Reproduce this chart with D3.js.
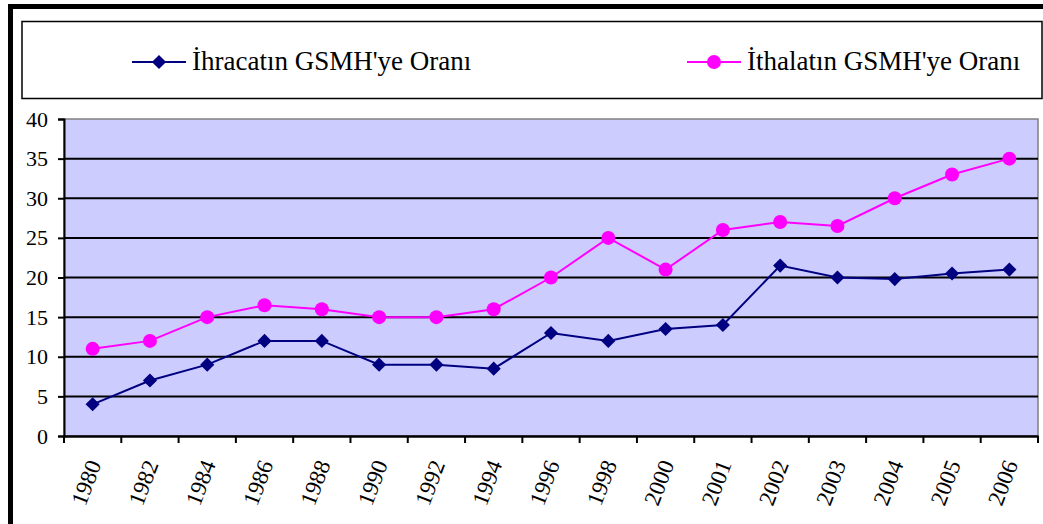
<!DOCTYPE html>
<html><head><meta charset="utf-8">
<script src="https://cdn.jsdelivr.net/npm/d3@7"></script>
<style>body{margin:0;background:#fff;} svg{display:block;} svg text{font-family:"Liberation Serif","Times New Roman","DejaVu Serif",serif;}</style>
</head><body>
<svg id="c" width="1043" height="524"></svg>
<script>
const years = ["1980","1982","1984","1986","1988","1990","1992","1994","1996","1998","2000","2001","2002","2003","2004","2005","2006"];
const exportsRatio = [4,7,9,12,12,9,9,8.5,13,12,13.5,14,21.5,20,19.8,20.5,21];
const importsRatio = [11,12,15,16.5,16,15,15,16,20,25,21,26,27,26.5,30,33,35];
const seriesNames = ["İhracatın GSMH'ye Oranı","İthalatın GSMH'ye Oranı"];
const yTicks = [0,5,10,15,20,25,30,35,40];

const svg = d3.select("#c");
const L=64, R=1038, T=119, B=436;

// outer border
svg.append("rect").attr("x",10.5).attr("y",6.5).attr("width",1060).attr("height",560)
  .attr("fill","none").attr("stroke","#000").attr("stroke-width",5);
// legend box
svg.append("rect").attr("x",22).attr("y",21.5).attr("width",1020).attr("height",77)
  .attr("fill","#fff").attr("stroke","#000").attr("stroke-width",1.5);

const x = d3.scaleBand().domain(years).range([L,R]);
const y = d3.scaleLinear().domain([0,40]).range([B,T]);

svg.append("rect").attr("x",L).attr("y",T).attr("width",R-L).attr("height",B-T)
  .attr("fill","#CCCCFF").attr("stroke","#808080").attr("stroke-width",1.5);

// gridlines
svg.append("g").selectAll("line").data(yTicks.filter(d=>d>0 && d<40)).join("line")
  .attr("x1",L).attr("x2",R).attr("y1",d=>y(d)).attr("y2",d=>y(d))
  .attr("stroke","#000").attr("stroke-width",2);

// y axis
const ya = svg.append("g").attr("transform",`translate(${L},0)`)
  .call(d3.axisLeft(y).tickValues(yTicks).tickSize(6).tickPadding(10));
ya.attr("font-family",null);
ya.select(".domain").attr("stroke","#000").attr("stroke-width",2);
ya.selectAll(".tick line").attr("stroke","#000").attr("stroke-width",2);
ya.selectAll("text").style("font-size","22px").attr("fill","#000");

// x axis
const xa = svg.append("g").attr("transform",`translate(0,${B})`)
  .call(d3.axisBottom(x).tickSize(0).tickFormat(""));
xa.select(".domain").attr("stroke","#000").attr("stroke-width",2.5);
const bounds = years.map(d=>x(d)).concat([R]);
svg.append("g").selectAll("line").data(bounds).join("line")
  .attr("x1",d=>d).attr("x2",d=>d).attr("y1",B).attr("y2",B+7)
  .attr("stroke","#000").attr("stroke-width",2);
svg.append("g").selectAll("text").data(years).join("text")
  .attr("transform",d=>`translate(${x(d)+x.bandwidth()/2+9},${B+28}) rotate(-69)`)
  .attr("text-anchor","end").style("font-size","23px")
  .text(d=>d);

const cx = d=>x(d)+x.bandwidth()/2;
const line = d3.line().x((d,i)=>cx(years[i])).y(d=>y(d));

// imports
svg.append("path").datum(importsRatio).attr("d",line).attr("fill","none")
  .attr("stroke","#FF00FF").attr("stroke-width",2);
svg.append("g").selectAll("circle").data(importsRatio).join("circle")
  .attr("cx",(d,i)=>cx(years[i])).attr("cy",d=>y(d)).attr("r",7).attr("fill","#FF00FF");
// exports
svg.append("path").datum(exportsRatio).attr("d",line).attr("fill","none")
  .attr("stroke","#000080").attr("stroke-width",2);
const diamond = d3.symbol().type(d3.symbolSquare).size(100);
svg.append("g").selectAll("path").data(exportsRatio).join("path")
  .attr("d",diamond).attr("transform",(d,i)=>`translate(${cx(years[i])},${y(d)}) rotate(45)`)
  .attr("fill","#000080");

// legend
const lg = [{x0:132,x1:186,c:"#000080",t:"d"},{x0:687,x1:741,c:"#FF00FF",t:"c"}];
lg.forEach((g,i)=>{
  const ly = 62;
  svg.append("line").attr("x1",g.x0).attr("x2",g.x1).attr("y1",ly).attr("y2",ly)
    .attr("stroke",g.c).attr("stroke-width",2);
  const mx=(g.x0+g.x1)/2;
  if(g.t==="d") svg.append("path").attr("d",diamond).attr("transform",`translate(${mx},${ly}) rotate(45)`).attr("fill",g.c);
  else svg.append("circle").attr("cx",mx).attr("cy",ly).attr("r",7).attr("fill",g.c);
  svg.append("text").attr("x",g.x1+6).attr("y",ly+8)
    .style("font-size","27px").text(seriesNames[i]);
});
</script>
</body></html>
